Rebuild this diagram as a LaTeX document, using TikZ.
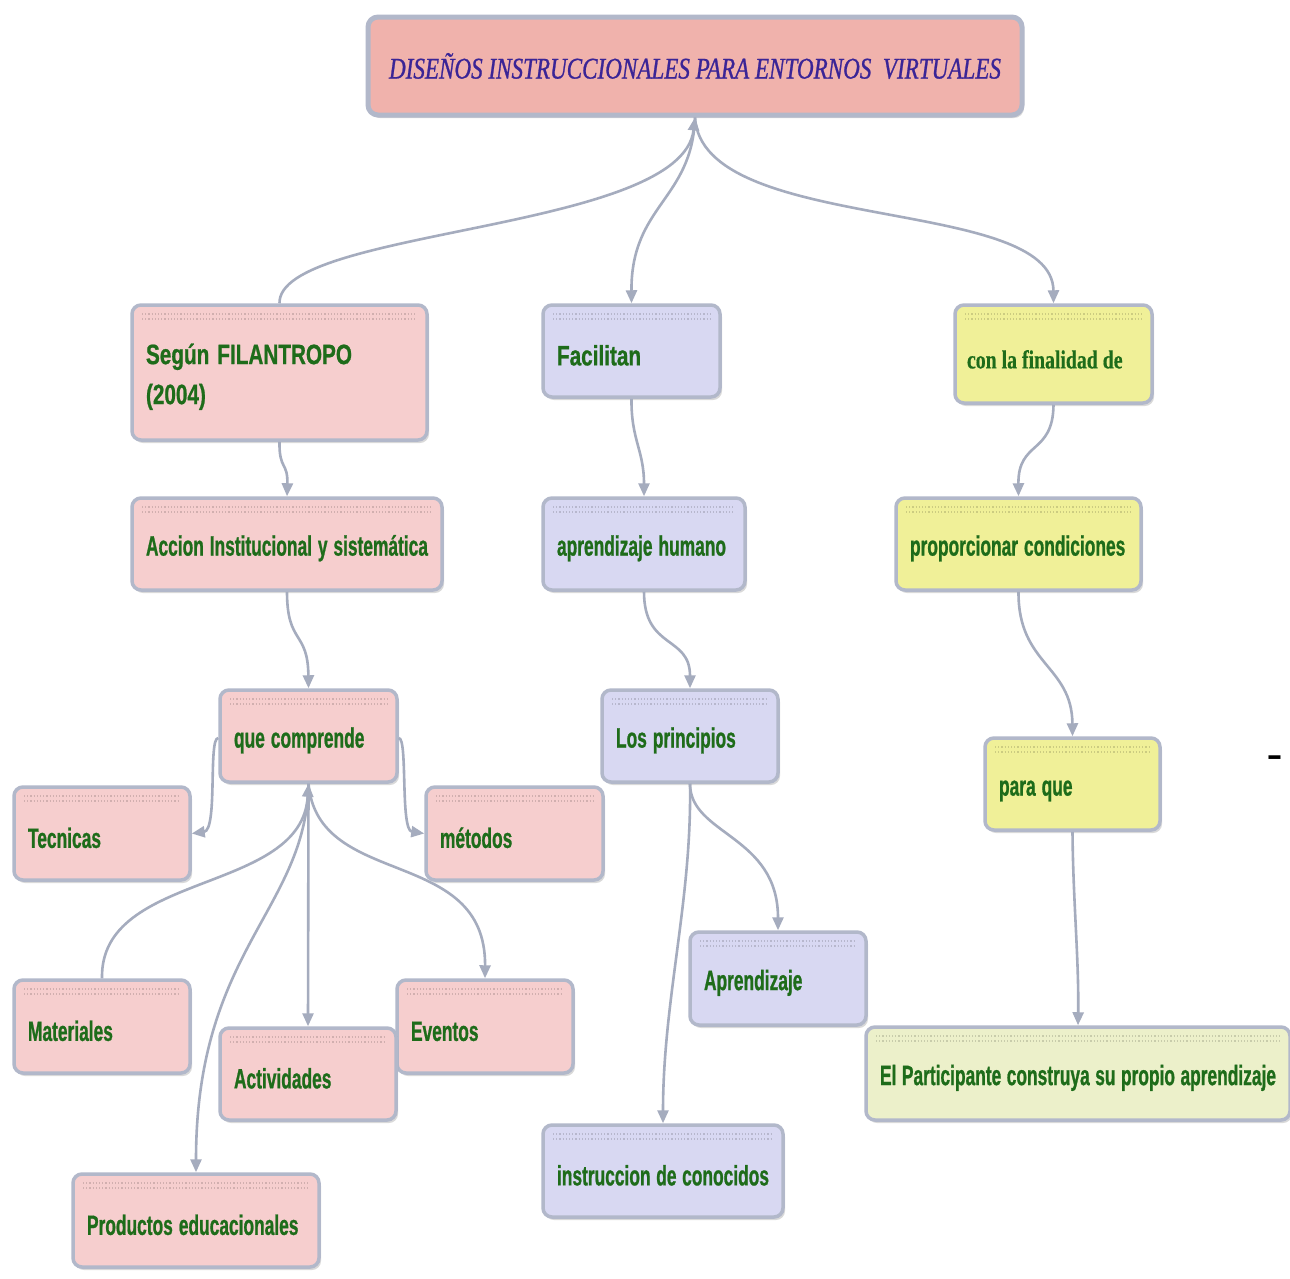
\documentclass[tikz,border=0pt]{standalone}
\usepackage{fontspec}
\usetikzlibrary{arrows.meta,shadows}
\newfontfamily\cn[FakeStretch=0.62, BoldFeatures={FakeBold=0.8}]{Liberation Sans}
\newfontfamily\cm[FakeStretch=0.74, BoldFeatures={FakeBold=0.8}]{Liberation Sans}
\newfontfamily\ser[FakeStretch=0.76, BoldFeatures={FakeBold=0.5}]{Liberation Serif}
\newfontfamily\ttl[FakeStretch=0.77, ItalicFeatures={FakeBold=0.8}]{Liberation Serif}
\definecolor{bord}{RGB}{178,184,202}
\definecolor{conn}{RGB}{165,172,190}
\definecolor{tg}{RGB}{30,108,26}
\definecolor{tb}{RGB}{58,36,150}
\definecolor{salmon}{RGB}{240,178,172}
\definecolor{pk}{RGB}{246,206,206}
\definecolor{lav}{RGB}{216,216,242}
\definecolor{yel}{RGB}{240,240,152}
\definecolor{pale}{RGB}{236,240,202}
\tikzset{
  box/.style={draw=bord, line width=3.5pt, rounded corners=9pt, inner xsep=14pt, inner ysep=4pt,
    text=tg, align=left, font=\cn\bfseries\fontsize{28}{40}\selectfont,
    execute at begin node={\hyphenpenalty=10000\exhyphenpenalty=10000\spaceskip=6pt plus 2pt minus 1pt\relax\rule{0pt}{29pt}},
    drop shadow={shadow xshift=2pt, shadow yshift=-3pt, opacity=0.15, fill=black},
    path picture={
      \draw[dotted, line width=1.2pt, draw=black, draw opacity=0.15]
        ([xshift=10pt,yshift=-9pt]path picture bounding box.north west) -- ([xshift=-10pt,yshift=-9pt]path picture bounding box.north east);
      \draw[dotted, line width=1.2pt, draw=black, draw opacity=0.15]
        ([xshift=10pt,yshift=-14pt]path picture bounding box.north west) -- ([xshift=-10pt,yshift=-14pt]path picture bounding box.north east);
    }},
  widesp/.style={execute at begin node={\hyphenpenalty=10000\spaceskip=8pt plus 2pt minus 1pt\relax\rule{0pt}{29pt}}},
  sersp/.style={execute at begin node={\hyphenpenalty=10000\spaceskip=5pt plus 1pt minus 1pt\relax\rule{0pt}{27pt}}},
  pinkbox/.style={box, fill=pk},
  lavbox/.style={box, fill=lav},
  yelbox/.style={box, fill=yel},
  palebox/.style={box, fill=pale},
  link/.style={draw=conn, line width=2.6pt, -{Triangle[length=13pt,width=11pt]}},
}
\begin{document}
\begin{tikzpicture}[x=1pt,y=-1pt]
\useasboundingbox[fill=white] (0,0) rectangle (1290,1278);

% title
\node[draw=bord, line width=5pt, rounded corners=10pt, fill=salmon, minimum width=654pt, minimum height=98pt,
  text=tb, font=\ttl\itshape\fontsize{30}{36}\selectfont,
  drop shadow={shadow xshift=2pt, shadow yshift=-3pt, opacity=0.15, fill=black}]
  (top) at (695,66) {DISEÑOS INSTRUCCIONALES PARA ENTORNOS\ \ VIRTUALES};

% level 1
\node[pinkbox, widesp, font=\cm\bfseries\fontsize{28}{40}\selectfont, minimum height=135pt, text width=267pt] (s1) at (279.5,372.5) {Según FILANTROPO\\(2004)};
\node[lavbox, widesp, font=\cm\bfseries\fontsize{28}{40}\selectfont, minimum height=92pt, text width=149pt] (fac) at (631.5,351) {Facilitan};
\node[yelbox, sersp, font=\ser\bfseries\fontsize{26}{32}\selectfont, inner xsep=12pt, minimum height=98pt, text width=173pt] (fin) at (1053.5,354) {con la finalidad de};

% level 2
\node[pinkbox, minimum height=92pt, text width=282pt] (acc) at (287,544) {Accion Institucional y sistemática};
\node[lavbox, minimum height=92pt, text width=174pt] (apr) at (644,544) {aprendizaje humano};
\node[yelbox, minimum height=92pt, text width=217pt] (prop) at (1018.5,544) {proporcionar condiciones};

% level 3
\node[pinkbox, minimum height=92pt, text width=149pt] (que) at (308.5,736) {que comprende};
\node[lavbox, minimum height=92pt, text width=148pt] (prin) at (690,736) {Los principios};
\node[yelbox, minimum height=92pt, text width=147pt] (para) at (1072.5,784) {para que};

% level 4
\node[pinkbox, minimum height=93pt, text width=148pt] (tec) at (102,833.5) {Tecnicas};
\node[pinkbox, minimum height=93pt, text width=149pt] (met) at (514.5,833.5) {métodos};
\node[lavbox, minimum height=93pt, text width=148pt] (aprz) at (778,978.5) {Aprendizaje};
\node[pinkbox, minimum height=93pt, text width=148pt] (mat) at (102,1026.5) {Materiales};
\node[pinkbox, minimum height=93pt, text width=148pt] (eve) at (485,1026.5) {Eventos};
\node[pinkbox, minimum height=92pt, text width=148pt] (act) at (308,1074) {Actividades};
\node[pinkbox, minimum height=93pt, text width=218pt] (prod) at (196,1220.5) {Productos educacionales};
\node[lavbox, minimum height=92pt, text width=212pt] (ins) at (663,1171) {instruccion de conocidos};
\node[palebox, align=center, minimum height=93pt, text width=396pt] (part) at (1078,1073.5) {El Participante construya su propio aprendizaje};

\node[font=\bfseries\fontsize{40}{44}\selectfont, inner sep=0pt] (dash) at (1276,761) {-};

% connectors from the title
\draw[link] (s1.north) .. controls (278,228) and (682,232) .. (top.south);
\draw[link] (top.south) .. controls (692,200) and (631,205) .. (fac.north);
\draw[link] (top.south) .. controls (702,235) and (1053,195) .. (fin.north);

% left column
\draw[link] (s1.south) .. controls (279,470) and (288,462) .. (acc.north);
\draw[link] (acc.south) .. controls (287,645) and (308,630) .. (que.north);
\draw[link] ([yshift=-2pt]que.west) .. controls (208,738) and (218,830) .. (tec.east);
\draw[link] ([yshift=-2pt]que.east) .. controls (408,738) and (400,830) .. (met.west);
\draw[link] (mat.north) .. controls (100,870) and (302,895) .. (que.south);
\draw[link] (que.south) -- (act.north);
\draw[link] (que.south) .. controls (318,890) and (486,845) .. (eve.north);
\draw[link] (que.south) .. controls (306,910) and (196,950) .. (prod.north);

% middle column
\draw[link] (fac.south) .. controls (631,440) and (644,450) .. (apr.north);
\draw[link] (apr.south) .. controls (644,650) and (690,635) .. (prin.north);
\draw[link] (prin.south) .. controls (690,835) and (778,835) .. (aprz.north);
\draw[link] (prin.south) .. controls (692,900) and (663,1000) .. (ins.north);

% right column
\draw[link] (fin.south) .. controls (1053,455) and (1018,440) .. (prop.north);
\draw[link] (prop.south) .. controls (1018,665) and (1072,665) .. (para.north);
\draw[link] (para.south) .. controls (1073,900) and (1079,960) .. (part.north);
\end{tikzpicture}
\end{document}
